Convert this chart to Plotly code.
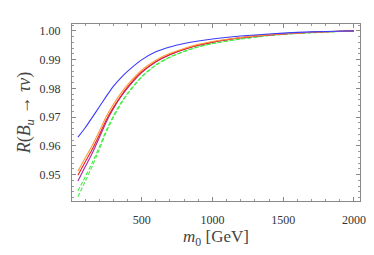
import plotly.graph_objects as go

m0 = [50, 100, 150, 200, 250, 300, 350, 400, 500, 600, 700, 800, 900, 1000, 1200, 1400, 1600, 1800, 2000]
r_blue = [0.9630, 0.9662, 0.9698, 0.9735, 0.9772, 0.9807, 0.9835, 0.9859, 0.9899, 0.9927, 0.9944, 0.9956, 0.9965, 0.9972, 0.9982, 0.9989, 0.9995, 0.9998, 1.0000]
r_orange = [0.9512, 0.9557, 0.9600, 0.9650, 0.9702, 0.9744, 0.9781, 0.9812, 0.9863, 0.9898, 0.9922, 0.9939, 0.9953, 0.9963, 0.9977, 0.9987, 0.9993, 0.9997, 1.0000]
r_red = [0.9498, 0.9543, 0.9587, 0.9637, 0.9690, 0.9733, 0.9771, 0.9804, 0.9857, 0.9893, 0.9918, 0.9936, 0.9950, 0.9961, 0.9976, 0.9986, 0.9993, 0.9997, 1.0000]
r_purple = [0.9478, 0.9526, 0.9573, 0.9627, 0.9683, 0.9729, 0.9768, 0.9801, 0.9855, 0.9892, 0.9917, 0.9935, 0.9950, 0.9961, 0.9976, 0.9986, 0.9993, 0.9997, 1.0000]
r_green1 = [0.9443, 0.9491, 0.9540, 0.9595, 0.9654, 0.9704, 0.9747, 0.9783, 0.9841, 0.9882, 0.9909, 0.9929, 0.9945, 0.9956, 0.9972, 0.9984, 0.9991, 0.9996, 1.0000]
r_green2 = [0.9423, 0.9475, 0.9528, 0.9586, 0.9648, 0.9699, 0.9743, 0.9780, 0.9839, 0.9880, 0.9908, 0.9928, 0.9944, 0.9956, 0.9972, 0.9984, 0.9991, 0.9996, 1.0000]

series = [
    (r_green2, "#44ee44", "4px,2px"),
    (r_green1, "#44ee44", "4px,2px"),
    (r_purple, "#a628a6", "solid"),
    (r_red, "#e8202a", "solid"),
    (r_orange, "#ff9a3c", "solid"),
    (r_blue, "#3a3aff", "solid"),
]

fig = go.Figure()
for ys, col, dash in series:
    fig.add_trace(go.Scatter(x=m0, y=ys, mode="lines",
                             line=dict(color=col, width=1.1, dash=dash, shape="spline", smoothing=0.6),
                             showlegend=False, hoverinfo="skip"))

axis_common = dict(
    showgrid=False, zeroline=False, showline=True, linecolor="#888888", linewidth=1,
    mirror="allticks", ticks="inside", ticklen=4, tickcolor="#888888", tickwidth=1,
    tickfont=dict(family="Liberation Serif", size=12, color="#333333"),
)

fig.update_xaxes(range=[8, 2043], dtick=500, tick0=0,
                 minor=dict(dtick=100, ticks="inside", ticklen=2, tickcolor="#999999"),
                 ticklabelstandoff=8,
                 title=dict(text="<i>m</i><sub>0</sub> [GeV]", standoff=1,
                            font=dict(family="Liberation Serif", size=17, color="#444444")),
                 **axis_common)
fig.update_yaxes(range=[0.9408, 1.0024], dtick=0.01, tick0=0.95, tickformat=".2f",
                 minor=dict(dtick=0.002, ticks="inside", ticklen=2, tickcolor="#999999"),
                 ticklabelstandoff=8,
                 title=dict(text="<i>R</i>(<i>B</i><sub><i>u</i></sub> → <i>τν</i>)", standoff=4,
                            font=dict(family="Liberation Serif", size=18, color="#444444")),
                 **axis_common)

fig.update_layout(width=374, height=255, margin=dict(l=64, r=22, t=16, b=62),
                  plot_bgcolor="white", paper_bgcolor="white")
fig.write_html("out.html")
